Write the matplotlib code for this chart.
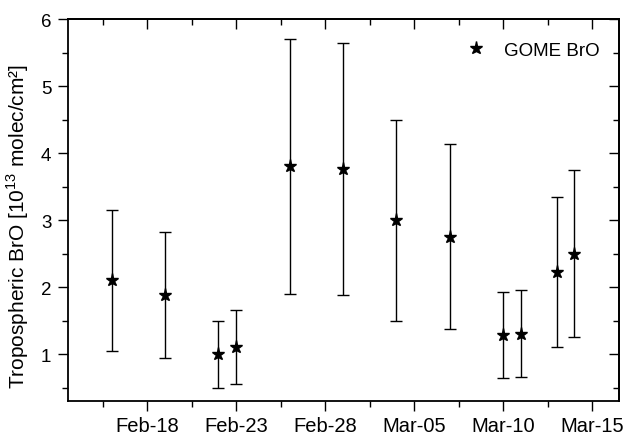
import matplotlib.pyplot as plt
import matplotlib.ticker as ticker

plt.rcParams['font.family'] = ['Liberation Sans', 'DejaVu Sans']
plt.rcParams['mathtext.fontset'] = 'custom'
plt.rcParams['mathtext.rm'] = 'Liberation Sans'

# days counted from Feb 0 (Mar 01 = 29)
days = [16, 19, 22, 23, 26, 29, 32, 35, 38, 39, 41, 42]
bro = [2.10, 1.88, 1.00, 1.10, 3.80, 3.76, 3.00, 2.75, 1.28, 1.30, 2.23, 2.50]
bro_err = [1.05, 0.94, 0.50, 0.55, 1.90, 1.88, 1.50, 1.38, 0.64, 0.65, 1.12, 1.25]

tick_days = [18, 23, 28, 33, 38, 43]
tick_labels = ['Feb-18', 'Feb-23', 'Feb-28', 'Mar-05', 'Mar-10', 'Mar-15']

fig = plt.figure(figsize=(6.27, 4.35), dpi=100)
ax = fig.add_axes([0.1085, 0.076, 0.8785, 0.878])

ax.errorbar(days, bro, yerr=bro_err, fmt='none', ecolor='black',
            elinewidth=1.0, capsize=4, capthick=1.0)
ax.plot(days, bro, '*', color='black', ms=9.5, label='GOME BrO')

ax.set_xlim(13.55, 44.5)
ax.set_ylim(0.3, 6)

ax.xaxis.set_major_locator(ticker.FixedLocator(tick_days))
ax.xaxis.set_major_formatter(ticker.FixedFormatter(tick_labels))
ax.xaxis.set_minor_locator(ticker.MultipleLocator(2.5, offset=0.5))
ax.yaxis.set_major_locator(ticker.MultipleLocator(1))
ax.yaxis.set_minor_locator(ticker.MultipleLocator(0.5))

ax.tick_params(which='both', direction='out', width=1.0)
ax.tick_params(which='major', length=7)
ax.tick_params(which='minor', length=4)
ax.tick_params(axis='x', labelsize=14.5, pad=4)
ax.tick_params(axis='y', labelsize=13.5, pad=5)

# mirrored ticks pointing inward on top and right
for side in ('top', 'right'):
    if side == 'top':
        sec = ax.secondary_xaxis('top')
        sec.xaxis.set_major_locator(ticker.FixedLocator(tick_days))
        sec.xaxis.set_minor_locator(ticker.MultipleLocator(2.5, offset=0.5))
    else:
        sec = ax.secondary_yaxis('right')
        sec.yaxis.set_major_locator(ticker.MultipleLocator(1))
        sec.yaxis.set_minor_locator(ticker.MultipleLocator(0.5))
    sec.tick_params(which='both', direction='in', labelleft=False, labelright=False,
                    labeltop=False, labelbottom=False, width=1.0)
    sec.tick_params(which='major', length=7)
    sec.tick_params(which='minor', length=4)
    for sp in sec.spines.values():
        sp.set_linewidth(1.3)

for sp in ax.spines.values():
    sp.set_linewidth(1.3)

ax.set_ylabel('Tropospheric BrO [10$^{13}$ molec/cm²]', fontsize=15)
ax.yaxis.set_label_coords(-0.068, 0.458)

ax.legend(loc='upper right', frameon=False, fontsize=13.5, handletextpad=0.9,
          bbox_to_anchor=(0.996, 0.985), numpoints=1, handlelength=1.2)

fig.savefig('out.png', dpi=100)
